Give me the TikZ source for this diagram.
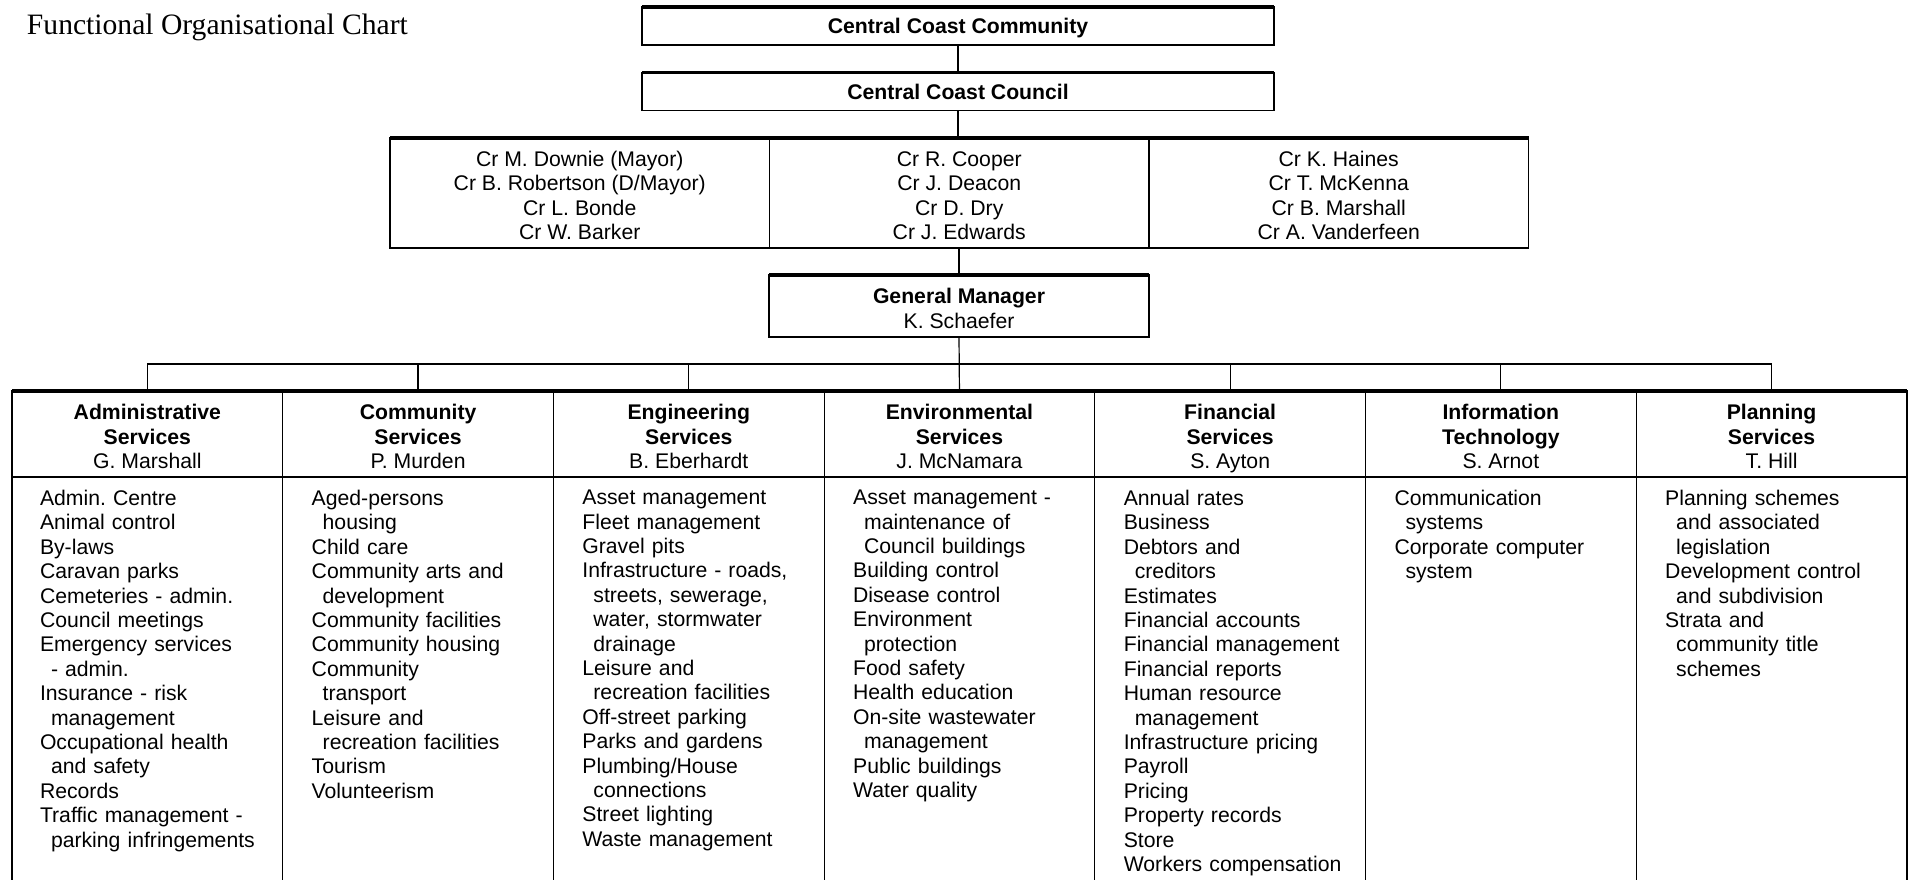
\documentclass[tikz,border=0pt]{standalone}
\usepackage{fontspec}
\setsansfont{Liberation Sans}
\newfontfamily\titlefont{Liberation Serif}
\newcommand\contind{\hspace*{11pt}}
\frenchspacing
\begin{document}
\begin{tikzpicture}[x=1pt,y=-1pt,
  every node/.style={inner sep=0pt, outer sep=0pt},
  txt/.style={font=\fontsize{21.2}{24.4}\selectfont\sffamily\frenchspacing},
  thin/.style={line width=1.2pt},
  thick/.style={line width=3.5pt},
  multi/.style={text height=#1, text depth=0pt},
  topbox/.style={txt, draw, thin, minimum width=632pt, minimum height=38pt, text height=15.5pt, text depth=0pt, font=\fontsize{21.2}{24.4}\selectfont\sffamily\bfseries},
  crbox/.style={txt, multi=93.2pt, draw, thin, align=center, minimum width=379.5pt, minimum height=110pt},
  gmbox/.style={txt, multi=44.4pt, draw, thin, align=center, minimum width=380pt, minimum height=62pt},
  hdr/.style={txt, multi=68.8pt, draw, thin, align=center, minimum width=270.7pt, minimum height=86pt},
  body/.style={txt, align=left, anchor=north west, text width=240pt},
  conn/.style={thin}
]
\useasboundingbox (0,0) rectangle (1910,880);

\node[anchor=west, font=\titlefont\fontsize{29.6}{33}\selectfont] (title) at (27,27.5) {Functional Organisational Chart};

\node[topbox] (comm) at (958,26) {Central Coast Community};
\node[topbox] (council) at (958,91.5) {Central Coast Council};

\node[crbox] (cr1) at (579.75,193) {Cr M. Downie (Mayor)\\Cr B. Robertson (D/Mayor)\\Cr L. Bonde\\Cr W. Barker};
\node[crbox] (cr2) at (959.25,193) {Cr R. Cooper\\Cr J. Deacon\\Cr D. Dry\\Cr J. Edwards};
\node[crbox] (cr3) at (1338.75,193) {Cr K. Haines\\Cr T. McKenna\\Cr B. Marshall\\Cr A. Vanderfeen};

\node[gmbox] (gm) at (959,306) {\textbf{General Manager}\\K. Schaefer};

\node[hdr] (h1) at (147.35,434) {\textbf{Administrative}\\\textbf{Services}\\G. Marshall};
\node[hdr] (h2) at (418.05,434) {\textbf{Community}\\\textbf{Services}\\P. Murden};
\node[hdr] (h3) at (688.75,434) {\textbf{Engineering}\\\textbf{Services}\\B. Eberhardt};
\node[hdr] (h4) at (959.45,434) {\textbf{Environmental}\\\textbf{Services}\\J. McNamara};
\node[hdr] (h5) at (1230.15,434) {\textbf{Financial}\\\textbf{Services}\\S. Ayton};
\node[hdr] (h6) at (1500.85,434) {\textbf{Information}\\\textbf{Technology}\\S. Arnot};
\node[hdr] (h7) at (1771.55,434) {\textbf{Planning}\\\textbf{Services}\\T. Hill};

% connectors
\coordinate (busL) at (147.35,364);
\coordinate (busR) at (1771.55,364);
\coordinate (bot) at (0,880);
\draw[conn] (comm.south) -- (council.north);
\draw[conn] (council.south) -- (council.south |- cr2.north);
\draw[conn] (cr2.south -| gm.north) -- (gm.north);
\draw[conn] (gm.south) -- (h4.north);
\draw[conn] (busL) -- (busR);
\foreach \h in {h1,h2,h3,h5,h6,h7}{
  \draw[conn] (\h.north) -- (\h.north |- busL);
}

% body columns
\foreach \h in {h1,h2,h3,h4,h5,h6,h7}{
  \draw[thin] (\h.south west) -- (\h.south west |- bot);
}
\draw[thin] (h7.south east) -- (h7.south east |- bot);

% thick top bars
\draw[thick] (comm.north west) -- (comm.north east);
\draw[thick] (council.north west) -- (council.north east);
\draw[thick] (cr1.north west) -- (cr3.north east);
\draw[thick] (gm.north west) -- (gm.north east);
\draw[thick] (h1.north west) -- (h7.north east);

\node[body] (b1) at ([xshift=28pt,yshift=-13.2pt]h1.south west) {Admin. Centre\\Animal control\\By-laws\\Caravan parks\\Cemeteries - admin.\\Council meetings\\Emergency services\\\contind - admin.\\Insurance - risk\\\contind management\\Occupational health\\\contind and safety\\Records\\Traffic management -\\\contind parking infringements};
\node[body] (b2) at ([xshift=29pt,yshift=-13.2pt]h2.south west) {Aged-persons\\\contind housing\\Child care\\Community arts and\\\contind development\\Community facilities\\Community housing\\Community\\\contind transport\\Leisure and\\\contind recreation facilities\\Tourism\\Volunteerism};
\node[body] (b3) at ([xshift=29pt,yshift=-13.2pt]h3.south west) {Asset management\\Fleet management\\Gravel pits\\Infrastructure - roads,\\\contind streets, sewerage,\\\contind water, stormwater\\\contind drainage\\Leisure and\\\contind recreation facilities\\Off-street parking\\Parks and gardens\\Plumbing/House\\\contind connections\\Street lighting\\Waste management};
\node[body] (b4) at ([xshift=29pt,yshift=-13.2pt]h4.south west) {Asset management -\\\contind maintenance of\\\contind Council buildings\\Building control\\Disease control\\Environment\\\contind protection\\Food safety\\Health education\\On-site wastewater\\\contind management\\Public buildings\\Water quality};
\node[body] (b5) at ([xshift=29pt,yshift=-13.2pt]h5.south west) {Annual rates\\Business\\Debtors and\\\contind creditors\\Estimates\\Financial accounts\\Financial management\\Financial reports\\Human resource\\\contind management\\Infrastructure pricing\\Payroll\\Pricing\\Property records\\Store\\Workers compensation};
\node[body] (b6) at ([xshift=29pt,yshift=-13.2pt]h6.south west) {Communication\\\contind systems\\Corporate computer\\\contind system};
\node[body] (b7) at ([xshift=29pt,yshift=-13.2pt]h7.south west) {Planning schemes\\\contind and associated\\\contind legislation\\Development control\\\contind and subdivision\\Strata and\\\contind community title\\\contind schemes};
\end{tikzpicture}
\end{document}
